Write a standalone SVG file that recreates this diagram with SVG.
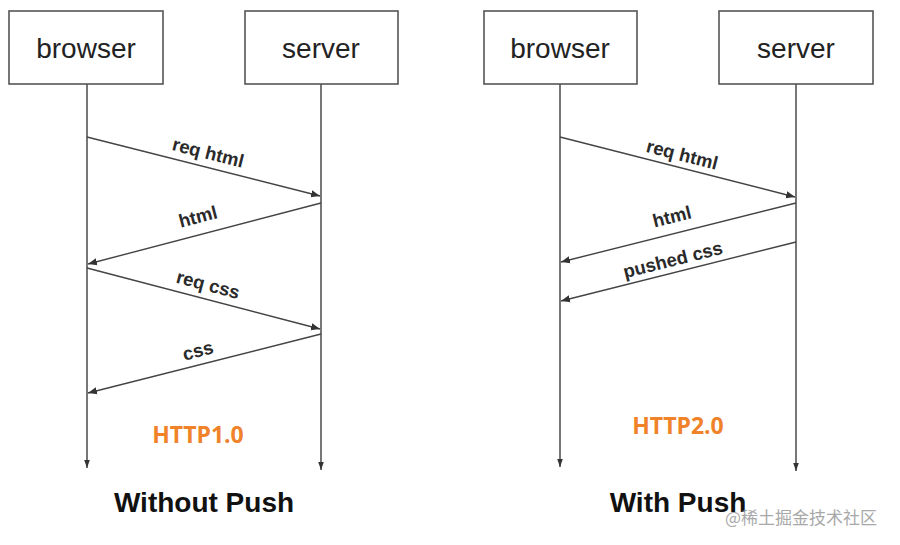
<svg xmlns="http://www.w3.org/2000/svg" width="900" height="545" viewBox="0 0 900 545">
<defs>
<style>
.box{fill:#fff;stroke:#555;stroke-width:1.6}
.lbl{font-family:"Liberation Sans",Arial,sans-serif;font-size:28px;fill:#222;text-anchor:middle}
.life{stroke:#555;stroke-width:1.6;fill:none}
.msg{stroke:#444;stroke-width:1.4;fill:none;marker-end:url(#ah)}
.mt{font-family:"Liberation Sans",Arial,sans-serif;font-size:18.5px;font-weight:bold;fill:#2a2a2a;text-anchor:middle}
.title{font-family:"Liberation Sans",Arial,sans-serif;font-size:28px;font-weight:bold;fill:#111;text-anchor:middle}
.http{font-family:"Open Sans","Liberation Sans",sans-serif;font-size:23px;font-weight:bold;fill:#f0822a;text-anchor:middle}
.wm{font-family:"Noto Sans CJK SC",sans-serif;font-size:17px;fill:#9a9a9a;opacity:0.85}
</style>
<marker id="ah" viewBox="0 0 10 10" refX="10" refY="5" markerWidth="9" markerHeight="9" markerUnits="userSpaceOnUse" orient="auto">
<path d="M0,1 L10,5 L0,9 z" fill="#333"/>
</marker>
<marker id="lh" viewBox="0 0 10 10" refX="10" refY="5" markerWidth="8" markerHeight="8" markerUnits="userSpaceOnUse" orient="auto">
<path d="M0,1.5 L10,5 L0,8.5 z" fill="#333"/>
</marker>
</defs>
<rect width="900" height="545" fill="#fff"/>

<g id="browser1"><rect class="box" x="9" y="11" width="154" height="73"/><text class="lbl" x="86" y="58">browser</text></g>
<g id="server1"><rect class="box" x="245" y="11" width="153" height="73"/><text class="lbl" x="321" y="58">server</text></g>
<g id="browser2"><rect class="box" x="484" y="11" width="153" height="73"/><text class="lbl" x="560" y="58">browser</text></g>
<g id="server2"><rect class="box" x="719" y="11" width="154" height="73"/><text class="lbl" x="796" y="58">server</text></g>

<g id="connectors">
<line class="life" x1="87" y1="84" x2="87" y2="468" marker-end="url(#lh)"/>
<line class="life" x1="321" y1="84" x2="321" y2="470" marker-end="url(#lh)"/>
<line class="life" x1="560" y1="84" x2="560" y2="467" marker-end="url(#lh)"/>
<line class="life" x1="796" y1="84" x2="796" y2="471" marker-end="url(#lh)"/>

<line class="msg" x1="87" y1="137" x2="320" y2="196"/>
<line class="msg" x1="321" y1="203" x2="88" y2="264"/>
<line class="msg" x1="87" y1="268" x2="320" y2="329"/>
<line class="msg" x1="321" y1="334" x2="88" y2="393"/>

<line class="msg" x1="560" y1="137" x2="795" y2="197"/>
<line class="msg" x1="796" y1="203" x2="561" y2="262"/>
<line class="msg" x1="796" y1="242" x2="561" y2="301"/>
</g>

<g id="labels">
<text class="mt" transform="translate(208,153) rotate(14.2)" y="6">req html</text>
<text class="mt" transform="translate(198,217) rotate(-14.8)" y="6">html</text>
<text class="mt" transform="translate(208,285) rotate(14.8)" y="6">req css</text>
<text class="mt" transform="translate(198,351) rotate(-14.4)" y="6">css</text>
<text class="mt" transform="translate(682,155) rotate(14.3)" y="6">req html</text>
<text class="mt" transform="translate(672,217) rotate(-14.1)" y="6">html</text>
<text class="mt" transform="translate(673,260) rotate(-14.1)" y="6">pushed css</text>
</g>

<text class="http" x="198" y="443">HTTP1.0</text>
<text class="http" x="678" y="434">HTTP2.0</text>

<text class="title" x="204" y="512">Without Push</text>
<text class="title" x="678" y="512">With Push</text>

<text class="wm" x="725" y="524">@稀土掘金技术社区</text>
</svg>
